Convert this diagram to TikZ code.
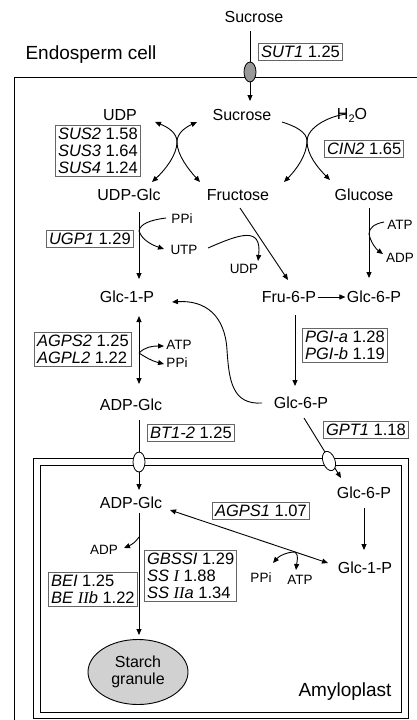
\documentclass[tikz,border=0pt]{standalone}
\usepackage{fontspec}
\setmainfont{Liberation Sans}
\newfontfamily\romfont{Liberation Serif}
\usetikzlibrary{arrows.meta,shapes.geometric}
\newcommand{\rn}[1]{{\romfont\itshape #1}}
\begin{document}
\begin{tikzpicture}[x=1pt,y=-1pt, line width=0.9pt,
  met/.style={font=\fontsize{16}{17}\selectfont, inner sep=1pt},
  cof/.style={font=\fontsize{13.5}{14}\selectfont, inner sep=1pt},
  enz/.style={draw=black!60, line width=1.1pt, font=\fontsize{16.5}{17}\selectfont, align=left, inner sep=2.5pt, anchor=north west},
  reg/.style={font=\fontsize{19}{20}\selectfont, inner sep=0pt},
  arr/.style={-{Triangle[length=6pt,width=5pt]}},
  darr/.style={{Triangle[length=6pt,width=5pt]}-{Triangle[length=6pt,width=5pt]}},
  carrier/.style={draw, ellipse, minimum width=12pt, minimum height=20pt, inner sep=0pt, line width=0.8pt},
]
\useasboundingbox (0,0) rectangle (417,720);

% compartments
\draw (14,720) -- (14,77) -- (417,77);
\draw (33,458) rectangle (408,718);
\draw (40,465) rectangle (401,712);

% region labels
\node[reg] (endo) at (91,55) {Endosperm cell};
\node[reg] (amy) at (345,692) {Amyloplast};

% metabolites
\node[met] (suc0) at (254,17) {Sucrose};
\node[met] (suc) at (242,115) {Sucrose};
\node[met] (udp1) at (120,115) {UDP};
\node[met] (h2o) at (352,115) {H\raisebox{-0.35ex}{\fontsize{11}{11}\selectfont 2}O};
\node[met] (udpglc) at (129,195) {UDP-Glc};
\node[met] (fru) at (238,195) {Fructose};
\node[met] (glc) at (364,195) {Glucose};
\node[cof] (ppi1) at (182,219) {PPi};
\node[cof] (utp) at (184,250) {UTP};
\node[cof] (udp2) at (244,269) {UDP};
\node[cof] (atp1) at (400,225) {ATP};
\node[cof] (adp1) at (400,258) {ADP};
\node[met] (glc1p) at (127,297) {Glc-1-P};
\node[met] (fru6p) at (289,297) {Fru-6-P};
\node[met] (glc6p) at (374,297) {Glc-6-P};
\node[cof] (atp2) at (179,345) {ATP};
\node[cof] (ppi2) at (177,363) {PPi};
\node[met] (adpglc) at (131,405) {ADP-Glc};
\node[met] (glc6pb) at (301,403) {Glc-6-P};
\node[met] (glc6pc) at (364,493) {Glc-6-P};
\node[met] (adpglcb) at (131,503) {ADP-Glc};
\node[met] (glc1pb) at (365,568) {Glc-1-P};
\node[cof] (ppi3) at (261,578) {PPi};
\node[cof] (atp3) at (300,580) {ATP};
\node[cof] (adp2) at (104,550) {ADP};
\node[draw, ellipse, fill=black!18, minimum width=100pt, minimum height=65pt, met, align=center] (starch) at (138,672) {Starch\\granule};

% enzymes
\node[enz] (sut1) at (258,43) {\textit{SUT1} 1.25};
\node[enz] (sus) at (55,125) {\textit{SUS2} 1.58\\\textit{SUS3} 1.64\\\textit{SUS4} 1.24};
\node[enz] (cin2) at (324,140) {\textit{CIN2} 1.65};
\node[enz] (ugp1) at (46,230) {\textit{UGP1} 1.29};
\node[enz] (pgi) at (302,328) {\textit{PGI-a} 1.28\\\textit{PGI-b} 1.19};
\node[enz] (agps2) at (34,332) {\textit{AGPS2} 1.25\\\textit{AGPL2} 1.22};
\node[enz] (bt12) at (147,424) {\textit{BT1-2} 1.25};
\node[enz] (gpt1) at (323,421) {\textit{GPT1} 1.18};
\node[enz] (agps1) at (212,502) {\textit{AGPS1} 1.07};
\node[enz] (gbss) at (144,550) {\textit{GBSSI} 1.29\\\textit{SS} \rn{I} 1.88\\\textit{SS} \rn{II}\textit{a} 1.34};
\node[enz] (bei) at (48,572) {\textit{BEI} 1.25\\\textit{BE} \rn{II}\textit{b} 1.22};

% coordinates
\coordinate (t0) at (250,31);
\coordinate (t1) at (250,101);
\coordinate (a1) at (155,122);
\coordinate (a2) at (197,122);
\coordinate (a3) at (152,182);
\coordinate (a4) at (200,182);
\coordinate (am) at (177,142);
\coordinate (b1) at (282,122);
\coordinate (b2) at (347,114);
\coordinate (b3) at (284,182);
\coordinate (b4) at (330,180);
\coordinate (bm) at (307,141);

% sucrose uptake
\draw[arr] (t0) -- (t1);
\node[carrier, fill=black!40] (sut) at (250,72) {};

% SUS reaction
\draw[darr] (a1) .. controls (170,128) and (177,134) .. (am) .. controls (177,155) and (165,170) .. (a3);
\draw[darr] (a2) .. controls (184,128) and (177,134) .. (am) .. controls (177,155) and (189,170) .. (a4);
% CIN reaction
\draw[arr] (b1) .. controls (295,126) and (307,132) .. (bm) .. controls (307,155) and (296,170) .. (b3);
\draw[arr] (b2) .. controls (328,116) and (307,128) .. (bm) .. controls (307,155) and (318,168) .. (b4);

% UGP
\coordinate (u0) at (139,212);
\coordinate (u1) at (139,279);
\coordinate (ub) at (139,231);
\draw[arr] (u0) -- (u1);
\draw (166,218) .. controls (150,220) and (140,224) .. (ub);
\draw[arr] (ub) .. controls (142,240) and (152,245) .. (164,249);
\draw[arr] (208,248) .. controls (240,234) and (262,226) .. (258,261);

% fructose -> Fru-6-P
\draw[arr] (240,208) -- (288,280);
% glucose -> Glc-6-P
\coordinate (g0) at (369,208);
\coordinate (gb) at (369,234);
\draw[arr] (g0) -- (369,278);
\draw (384,222) .. controls (374,224) and (369,228) .. (gb);
\draw[arr] (gb) .. controls (371,243) and (376,249) .. (383,254);
% Fru-6-P -> Glc-6-P
\draw[arr] (fru6p.east) -- (glc6p.west);
% PGI
\draw[arr] (295,315) -- (295,386);
% Glc-6-P -> Glc-1-P
\draw[arr] (262,403) .. controls (232,405) and (229,380) .. (227,350) .. controls (225,315) and (205,300) .. (172,302);
% AGPase cytosol
\coordinate (ab) at (139,353);
\draw[darr] (139,316) -- (139,384);
\draw[arr] (ab) .. controls (145,347) and (152,346) .. (164,346);
\draw[arr] (ab) .. controls (145,357) and (152,361) .. (164,364);

% BT1 transport
\draw[arr] (139,420) -- (139,490);
\node[carrier, fill=white] (bt) at (139,462) {};
% GPT transport
\draw[arr] (304,418) -- (341,478);
\node[carrier, fill=white, rotate=20] (gpt) at (329,461) {};

% plastid
\draw[arr] (364,508) -- (364,550);
\coordinate (pb) at (295,552);
\draw[darr] (170,510) -- (328,563);
\draw[arr] (pb) .. controls (287,552) and (279,556) .. (273,563);
\draw[arr] (pb) .. controls (299,555) and (297,561) .. (296,570);
\coordinate (sb) at (139,537);
\draw[arr] (139,513) -- (139,635);
\draw[arr] (sb) .. controls (136,542) and (131,545) .. (124,548);
\end{tikzpicture}
\end{document}
